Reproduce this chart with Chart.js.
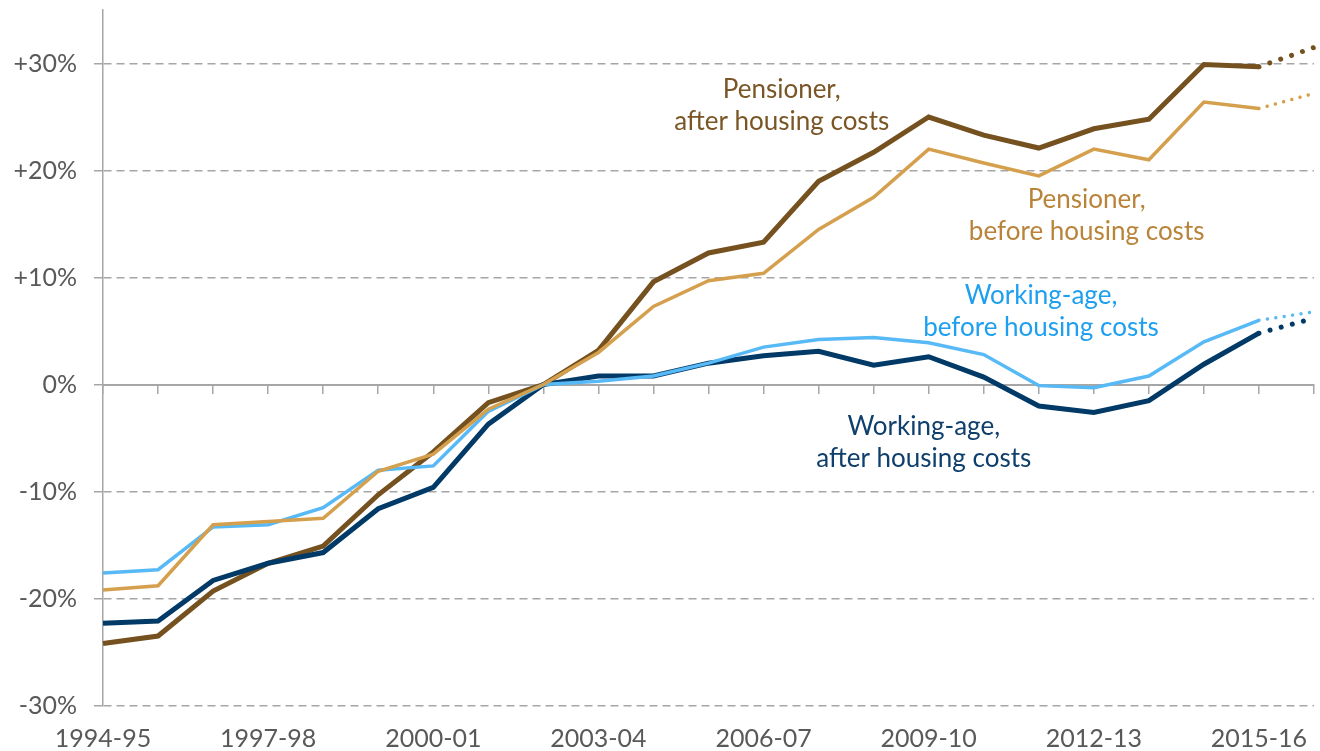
<!DOCTYPE html>
<html>
<head>
<meta charset="utf-8">
<script src="https://cdn.jsdelivr.net/npm/chart.js@4/dist/chart.umd.min.js"></script>
<style>
  html, body { margin: 0; padding: 0; background: #fff; }
  #wrap { width: 1320px; height: 751px; position: relative; }
</style>
</head>
<body>
<div id="wrap"><canvas id="c" width="1320" height="751"></canvas></div>
<script>
// ---- Data ----
const years = ["1994-95","1995-96","1996-97","1997-98","1998-99","1999-00","2000-01","2001-02","2002-03","2003-04","2004-05","2005-06","2006-07","2007-08","2008-09","2009-10","2010-11","2011-12","2012-13","2013-14","2014-15","2015-16","2016-17"];
const shownYearLabels = ["1994-95","1997-98","2000-01","2003-04","2006-07","2009-10","2012-13","2015-16"];
const yTickValues = [-30,-20,-10,0,10,20,30];

const pensionerAHC   = [-24.2,-23.5,-19.3,-16.7,-15.1,-10.3,-6.3,-1.7,0.0,3.2,9.6,12.3,13.3,19.0,21.7,25.0,23.3,22.1,23.9,24.8,29.9,29.7,31.5];
const pensionerBHC   = [-19.2,-18.8,-13.1,-12.8,-12.5,-8.1,-6.5,-2.3,0.0,3.0,7.3,9.7,10.4,14.5,17.5,22.0,20.7,19.5,22.0,21.0,26.4,25.8,27.2];
const workingBHC     = [-17.6,-17.3,-13.3,-13.1,-11.5,-8.0,-7.6,-2.5,0.0,0.3,0.8,2.0,3.5,4.2,4.4,3.9,2.8,-0.1,-0.3,0.8,4.0,6.0,6.8];
const workingAHC     = [-22.3,-22.1,-18.3,-16.7,-15.7,-11.6,-9.6,-3.7,0.0,0.8,0.8,2.0,2.7,3.1,1.8,2.6,0.7,-2.0,-2.6,-1.5,1.9,4.8,6.2];

const projectionStartIndex = 21; // segments after 2015-16 are projections (dotted)

const seriesNames = ["Pensioner, after housing costs","Pensioner, before housing costs","Working-age, before housing costs","Working-age, after housing costs"];

// ---- Styles ----
const FONT = "Lato, 'Open Sans', sans-serif";
const C_PAHC = "#75511f", C_PBHC = "#d5a04e", C_WBHC = "#57b9f5", C_WAHC = "#013a66";
const AXIS_GREY = "#a6a6a6";
const TEXT_GREY = "#595959";

function ds(label, data, color, width, dotGap) {
  return {
    label, data,
    borderColor: color, backgroundColor: color,
    borderWidth: width, pointRadius: 0, pointHoverRadius: 0,
    tension: 0, fill: false,
    borderJoinStyle: 'miter',
    segment: {
      borderDash: ctx => ctx.p0DataIndex >= projectionStartIndex ? [0.01, dotGap] : undefined,
      borderCapStyle: ctx => ctx.p0DataIndex >= projectionStartIndex ? 'round' : 'butt'
    }
  };
}

// annotation labels placed in data space (category index, value)
const annotations = [
  { lines: ["Pensioner,", "after housing costs"], xi: 12.33, y: 26.8, color: "#7a5626" },
  { lines: ["Pensioner,", "before housing costs"], xi: 17.87, y: 16.5, color: "#b9843a" },
  { lines: ["Working-age,", "before housing costs"], xi: 17.04, y: 7.5, color: "#1e9ff0" },
  { lines: ["Working-age,", "after housing costs"], xi: 14.91, y: -4.7, color: "#0f3f6c" }
];

const annotationPlugin = {
  id: 'annot',
  afterDatasetsDraw(chart) {
    const { ctx, scales } = chart;
    ctx.save();
    ctx.font = "26px " + FONT;
    ctx.textAlign = 'center';
    ctx.textBaseline = 'alphabetic';
    annotations.forEach(a => {
      const px = scales.x.getPixelForValue(a.xi);
      const py = scales.y.getPixelForValue(a.y);
      ctx.fillStyle = a.color;
      a.lines.forEach((t, k) => ctx.fillText(t, px, py + k * 32));
    });
    ctx.restore();
  }
};

function noPad(s) { s.paddingTop = 0; s.paddingBottom = 0; s.paddingLeft = 0; s.paddingRight = 0; }

new Chart(document.getElementById('c'), {
  type: 'line',
  data: {
    labels: years,
    datasets: [
      ds(seriesNames[1], pensionerBHC, C_PBHC, 3.5, 8.5),
      ds(seriesNames[2], workingBHC, C_WBHC, 3.5, 8.5),
      ds(seriesNames[3], workingAHC, C_WAHC, 5, 11.5),
      ds(seriesNames[0], pensionerAHC, C_PAHC, 5, 11.5)
    ]
  },
  options: {
    responsive: false,
    animation: false,
    devicePixelRatio: 1,
    layout: { padding: { top: 10, right: 6, left: 0, bottom: 0 } },
    plugins: { legend: { display: false }, tooltip: { enabled: false } },
    scales: {
      x: {
        type: 'category',
        offset: false,
        grid: { display: false, drawTicks: false },
        border: { display: false },
        ticks: {
          autoSkip: false, maxRotation: 0, padding: 18,
          color: TEXT_GREY, font: { family: FONT, size: 25 },
          callback: function(v, i) { const l = this.getLabelForValue(v); return shownYearLabels.includes(l) ? l : ''; }
        },
        afterFit(s) { s.height = 45.4; noPad(s); }
      },
      x0: {
        axis: 'x',
        type: 'category',
        position: { y: 0 },
        offset: false,
        grid: { drawOnChartArea: false, drawTicks: true, tickLength: 8, color: AXIS_GREY, lineWidth: 1.5 },
        border: { display: true, color: AXIS_GREY, width: 2 },
        ticks: { display: false, autoSkip: false },
        afterFit(s) { noPad(s); }
      },
      y: {
        min: -30, max: 35,
        afterBuildTicks(axis) { axis.ticks = yTickValues.map(v => ({ value: v })); },
        grid: {
          color: ctx => (ctx.tick && ctx.tick.value === 0) ? 'rgba(0,0,0,0)' : AXIS_GREY,
          tickColor: AXIS_GREY,
          lineWidth: 1.5, tickLength: 9,
          tickBorderDash: [],
        },
        border: { display: true, color: AXIS_GREY, width: 1.5, dash: [8, 5] },
        ticks: {
          padding: 17, color: TEXT_GREY, font: { family: FONT, size: 25 },
          callback: v => v > 0 ? '+' + v + '%' : v + '%'
        },
        afterFit(s) { s.width = 103; noPad(s); }
      }
    }
  },
  plugins: [annotationPlugin]
});
</script>
</body>
</html>
